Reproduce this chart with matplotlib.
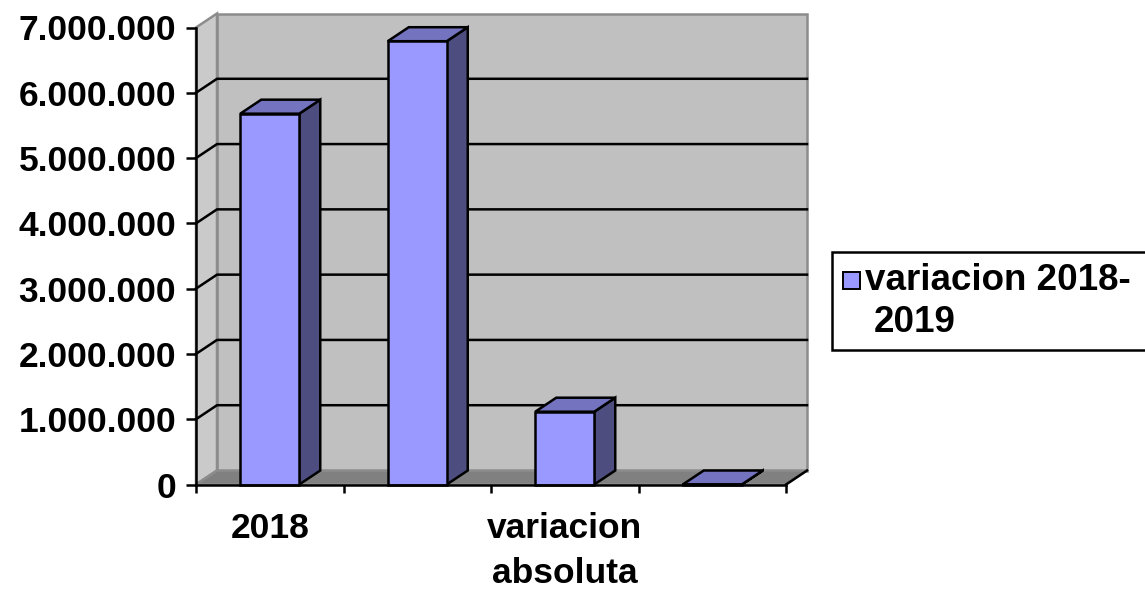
import matplotlib.pyplot as plt
from matplotlib.patches import Polygon, Rectangle
from matplotlib.ticker import FuncFormatter

# Data
categories = ["2018", "2019", "variacion absoluta", "variacion relativa"]
values = [5_680_000, 6_790_000, 1_115_000, 0.2]
series_name = "variacion 2018-2019"
y_ticks = [0, 1_000_000, 2_000_000, 3_000_000, 4_000_000, 5_000_000, 6_000_000, 7_000_000]

# Colours (classic spreadsheet 3-D column look)
FRONT = "#9999FF"
TOP = "#7373BF"
SIDE = "#4D4D80"
WALL = "#C0C0C0"
SIDE_WALL = "#CACACA"
FLOOR = "#808080"
WALL_EDGE = "#8C8C8C"
LW = 1.8

plt.rcParams["font.family"] = ["Liberation Sans", "DejaVu Sans"]
plt.rcParams["font.weight"] = "bold"
FS = 25.5

W, H = 1145, 592
fig = plt.figure(figsize=(W / 100, H / 100), dpi=100)

# front plane of the plot, in pixels
px_left, px_right, px_zero, px_top = 196, 786, 484.5, 27.5
ax = fig.add_axes([px_left / W, (H - px_zero) / H, (px_right - px_left) / W, (px_zero - px_top) / H])
n = len(categories)
ymax = y_ticks[-1]
ax.set_xlim(0, n)
ax.set_ylim(0, ymax)
ax.patch.set_visible(False)

# depth offset of the 3-D box, converted from pixels to data units
depth_px, rise_px = 21, 14
dx = depth_px * n / (px_right - px_left)
dy = rise_px * ymax / (px_zero - px_top)

# back wall, side wall and floor
ax.add_patch(Polygon([(dx, dy), (n + dx, dy), (n + dx, ymax + dy), (dx, ymax + dy)],
                     closed=True, facecolor=WALL, edgecolor=WALL_EDGE, lw=LW, zorder=0.5, clip_on=False))
ax.add_patch(Polygon([(0, 0), (dx, dy), (dx, ymax + dy), (0, ymax)],
                     closed=True, facecolor=SIDE_WALL, edgecolor=WALL_EDGE, lw=LW, zorder=0.6, clip_on=False))
ax.add_patch(Polygon([(0, 0), (n, 0), (n + dx, dy), (dx, dy)],
                     closed=True, facecolor=FLOOR, edgecolor=WALL_EDGE, lw=LW, zorder=0.7, clip_on=False))
ax.plot([n, n + dx], [0, dy], color="black", lw=LW, zorder=0.8, clip_on=False)

# gridlines on the back wall and across the side wall
for v in y_ticks[1:-1]:
    ax.plot([0, dx, n + dx], [v, v + dy, v + dy], color="black", lw=LW, zorder=0.8, clip_on=False)

# 3-D columns
bar_w = 0.4
for i, v in enumerate(values):
    left = i + 0.5 - bar_w / 2
    right = left + bar_w
    ax.add_patch(Polygon([(right, 0), (right + dx, dy), (right + dx, v + dy), (right, v)],
                         closed=True, facecolor=SIDE, edgecolor="black", lw=LW, zorder=2, clip_on=False))
    ax.add_patch(Polygon([(left, v), (right, v), (right + dx, v + dy), (left + dx, v + dy)],
                         closed=True, facecolor=TOP, edgecolor="black", lw=LW, zorder=2, clip_on=False))
    ax.add_patch(Rectangle((left, 0), bar_w, v, facecolor=FRONT, edgecolor="black", lw=LW,
                           zorder=2.1, clip_on=False))

# axes lines and ticks
for side in ("top", "right"):
    ax.spines[side].set_visible(False)
for side in ("left", "bottom"):
    ax.spines[side].set_linewidth(LW)
    ax.spines[side].set_zorder(3)

ax.set_yticks(y_ticks)
ax.yaxis.set_major_formatter(FuncFormatter(lambda v, _: f"{int(v):,}".replace(",", ".")))
ax.tick_params(axis="y", direction="out", length=7.2, width=LW, pad=7, labelsize=FS)

ax.set_xticks(range(n + 1))
ax.set_xticklabels([])
ax.tick_params(axis="x", which="major", direction="out", length=6, width=LW)
shown = [c.replace(" ", "\n") if i % 2 == 0 else "" for i, c in enumerate(categories)]
ax.set_xticks([i + 0.5 for i in range(n)], shown, minor=True)
ax.tick_params(axis="x", which="minor", length=0, pad=20, labelsize=FS)
for lbl in ax.get_xticklabels(minor=True):
    lbl.set_linespacing(1.45)
    lbl.set_verticalalignment("top")

# legend box, drawn by hand so it can run off the right edge
tf = fig.transFigure
fig.add_artist(Rectangle((832 / W, 1 - 350 / H), 330 / W, 98 / H, transform=tf,
                         facecolor="white", edgecolor="black", lw=LW))
fig.add_artist(Rectangle((843 / W, 1 - 289 / H), 17 / W, 17 / H, transform=tf,
                         facecolor=FRONT, edgecolor="black", lw=1.4))
head, tail = series_name.split("-")
fig.text(865 / W, 1 - 281 / H, head + "-", transform=tf, fontsize=FS + 1, va="center", ha="left")
fig.text(874 / W, 1 - 323 / H, tail, transform=tf, fontsize=FS + 1, va="center", ha="left")

fig.savefig("out.png", dpi=100)
